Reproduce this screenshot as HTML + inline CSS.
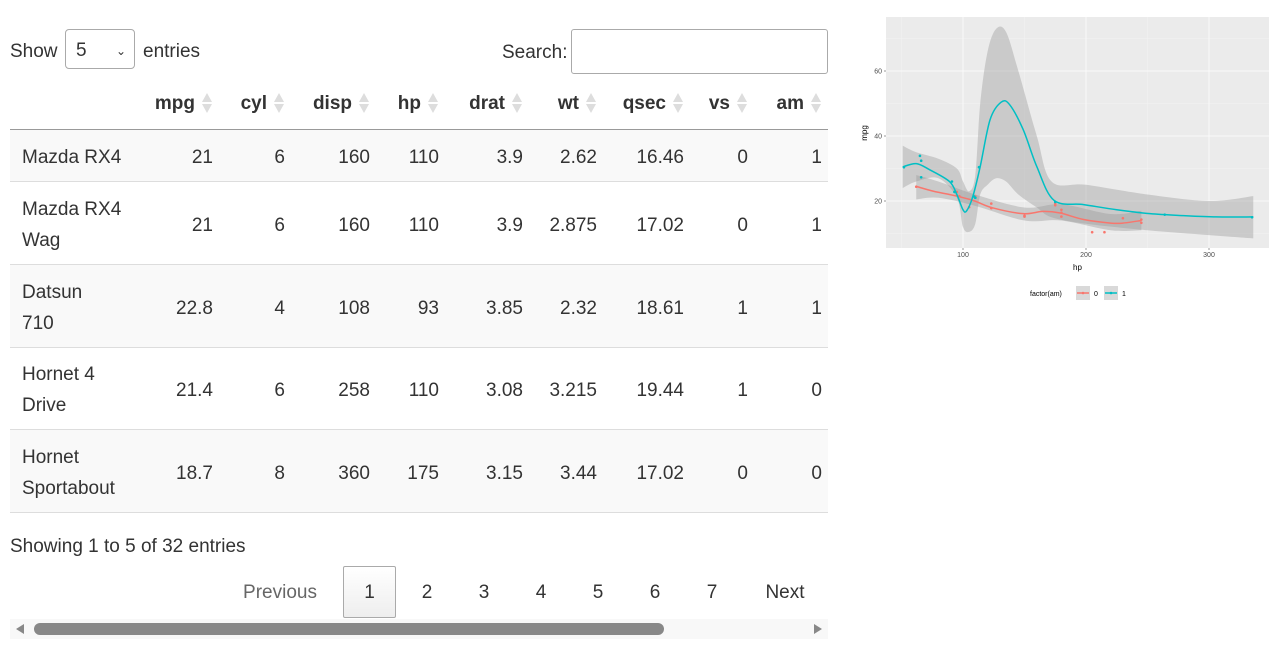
<!DOCTYPE html>
<html><head><meta charset="utf-8">
<style>
body{margin:0;width:1280px;height:654px;background:#fff;font-family:"Liberation Sans",sans-serif;color:#333;position:relative;overflow:hidden}
.a{position:absolute;white-space:nowrap}
.r{text-align:right}
.hd{font-weight:bold;font-size:19px}
.cell{font-size:19px}
.arr{position:absolute;width:12px;height:22px}
.arr:before{content:"";position:absolute;left:1px;top:1px;border-left:5px solid transparent;border-right:5px solid transparent;border-bottom:9px solid #ddd}
.arr:after{content:"";position:absolute;left:1px;top:12px;border-left:5px solid transparent;border-right:5px solid transparent;border-top:9px solid #ddd}
.row{position:absolute;left:10px;width:818px;border-bottom:1px solid #ddd}
.pg{position:absolute;top:566px;height:52px;line-height:54px;font-size:19px;text-align:center;color:#333}
</style></head><body>
<div class="a" style="left:10px;top:41px;font-size:19px">Show</div>
<div class="a" style="left:65px;top:29px;width:70px;height:40px;border:1px solid #aaa;border-radius:4px;font-size:19px;line-height:42px;box-sizing:border-box;padding-left:10px">5<span style="position:absolute;right:8px;top:0;font-size:12px">&#8964;</span></div>
<div class="a" style="left:143px;top:41px;font-size:19px">entries</div>
<div class="a" style="left:502px;top:42px;font-size:19px">Search:</div>
<div class="a" style="left:571px;top:29px;width:257px;height:45px;border:1px solid #aaa;border-radius:3px;box-sizing:border-box"></div>

<div id="tbl"></div>

<div class="a" style="left:10px;top:536px;font-size:19px">Showing 1 to 5 of 32 entries</div>
<div class="pg" style="left:232px;width:96px;color:#666">Previous</div>
<div class="pg" style="left:343px;width:53px;border:1px solid #aaa;border-radius:2px;background:linear-gradient(#fff,#eee);box-sizing:border-box;line-height:52px">1</div>
<div class="pg" style="left:403px;width:48px">2</div>
<div class="pg" style="left:460px;width:48px">3</div>
<div class="pg" style="left:517px;width:48px">4</div>
<div class="pg" style="left:574px;width:48px">5</div>
<div class="pg" style="left:631px;width:48px">6</div>
<div class="pg" style="left:688px;width:48px">7</div>
<div class="pg" style="left:755px;width:60px">Next</div>
<div class="a" style="left:10px;top:619px;width:818px;height:20px;background:#f8f8f8">
 <div class="a" style="left:6px;top:5px;border-top:5px solid transparent;border-bottom:5px solid transparent;border-right:8px solid #888"></div>
 <div class="a" style="left:24px;top:4px;width:630px;height:12px;border-radius:6px;background:#888"></div>
 <div class="a" style="left:804px;top:5px;border-top:5px solid transparent;border-bottom:5px solid transparent;border-left:8px solid #888"></div>
</div>

<svg id="chart" class="a" style="left:850px;top:0" width="430" height="310"></svg>

<script>
// ---- table ----
const cols=["mpg","cyl","disp","hp","drat","wt","qsec","vs","am"];
const colRight=[213,285,370,439,523,597,684,748,822];
const rowsData=[
 ["Mazda RX4",["21","6","160","110","3.9","2.62","16.46","0","1"]],
 ["Mazda RX4<br>Wag",["21","6","160","110","3.9","2.875","17.02","0","1"]],
 ["Datsun<br>710",["22.8","4","108","93","3.85","2.32","18.61","1","1"]],
 ["Hornet 4<br>Drive",["21.4","6","258","110","3.08","3.215","19.44","1","0"]],
 ["Hornet<br>Sportabout",["18.7","8","360","175","3.15","3.44","17.02","0","0"]]];
const rowTops=[130,182,265,348,430,513];
let h='';
cols.forEach((c,i)=>{h+=`<div class="a r hd" style="left:${colRight[i]-100-18}px;width:100px;top:93px">${c}</div><div class="arr" style="left:${colRight[i]-12}px;top:92px"></div>`;});
h+=`<div class="a" style="left:10px;top:129px;width:818px;height:1px;background:#999"></div>`;
rowsData.forEach((r,k)=>{const t=rowTops[k],hh=rowTops[k+1]-t;const mid=t+hh/2+2;
 h+=`<div class="row" style="top:${t}px;height:${hh-1}px;background:${k%2==0?'#f9f9f9':'#fff'}"></div>`;
 const two=r[0].includes('<br>');
 h+=`<div class="a cell" style="left:22px;top:${two?mid-32:mid-12}px;line-height:${two?31:24}px">${r[0]}</div>`;
 r[1].forEach((v,i)=>{h+=`<div class="a r cell" style="left:${colRight[i]-90}px;width:90px;top:${mid-12}px;line-height:24px">${v}</div>`;});
});
document.getElementById('tbl').innerHTML=h;

// ---- chart data ----
const hp0=[110,175,105,245,62,95,123,123,180,180,180,205,215,230,97,150,150,245,175];
const mpg0=[21.4,18.7,18.1,14.3,24.4,22.8,19.2,17.8,16.4,17.3,15.2,10.4,10.4,14.7,21.5,15.5,15.2,13.3,19.2];
const hp1=[110,110,93,66,52,65,66,91,113,264,175,335,109];
const mpg1=[21,21,22.8,32.4,30.4,33.9,27.3,26,30.4,15.8,19.7,15,21.4];
const fitX1=[51,62,73,89,95,100,103,108,114,122,131,138,149,160,174,198,225,252,279,306,336];
const fitY1=[30.5,31.5,29.6,26,22,17.3,17.0,21.4,30.6,45,50.4,49.6,41.9,30.6,20.2,18.9,17.3,16.1,15.5,15.1,15.1];
const bandX1=[51,62,80,95,100,105,110,114,120,127,135,145,160,172,200,250,300,336];
const bandHi1=[37,35,33,30,26,23,28,50,66,73,72,60,40,26,25,22,20,21.5];
const bandLo1=[24,26,27,21,12,10.5,13,22,25,27,26,22,18,15,13,11,9.5,8.5];
const fitX0=[62,76,89,108,124,149,165,179,198,220,230,245];
const fitY0=[24.5,23,22,20.2,17.9,16.1,16.8,16.3,14.3,13.2,13.2,14];
const bandX0=[62,80,110,150,180,220,245];
const bandHi0=[28,26,22,18,19,16,17];
const bandLo0=[20.5,21,18.5,14,14,11,11];
const xTicks=[100,200,300];
const yTicks=[20,40,60];

const L=36,R=419,T=17,B=248;
const x=v=>113+(v-100)*1.23;
const y=v=>201-(v-20)*3.25;
const NS='http://www.w3.org/2000/svg';
const svg=document.getElementById('chart');
function mk(tag,attrs,name){const e=document.createElementNS(NS,tag);for(const k in attrs)e.setAttribute(k,attrs[k]);
 
 
 svg.appendChild(e);return e;}
function curve(p){let d='';
 for(let i=0;i<p.length-1;i++){const p0=p[i-1]||p[i],p1=p[i],p2=p[i+1],p3=p[i+2]||p2;
  d+=`C${p1[0]+(p2[0]-p0[0])/6},${p1[1]+(p2[1]-p0[1])/6} ${p2[0]-(p3[0]-p1[0])/6},${p2[1]-(p3[1]-p1[1])/6} ${p2[0]},${p2[1]}`;}
 return d;}
mk('rect',{x:L,y:T,width:R-L,height:B-T,fill:'#ebebeb'},'panel-background');
[50,150,250].forEach(v=>mk('line',{x1:x(v),x2:x(v),y1:T,y2:B,stroke:'#f3f3f3','stroke-width':0.5},'minor-gridline'));
[10,30,50,70].forEach(v=>mk('line',{x1:L,x2:R,y1:y(v),y2:y(v),stroke:'#f3f3f3','stroke-width':0.5},'minor-gridline'));
xTicks.forEach(v=>{mk('line',{x1:x(v),x2:x(v),y1:T,y2:B,stroke:'#fafafa','stroke-width':0.9},'x-gridline');
 mk('line',{x1:x(v),x2:x(v),y1:B,y2:B+2,stroke:'#333','stroke-width':0.5},'x-tick');
 const t=mk('text',{x:x(v),y:B+9,'font-size':7,fill:'#4d4d4d','text-anchor':'middle'},'x-tick-label');t.textContent=v;});
yTicks.forEach(v=>{mk('line',{x1:L,x2:R,y1:y(v),y2:y(v),stroke:'#fafafa','stroke-width':0.9},'y-gridline');
 mk('line',{x1:L-2,x2:L,y1:y(v),y2:y(v),stroke:'#333','stroke-width':0.5},'y-tick');
 const t=mk('text',{x:L-4,y:y(v)+2.5,'font-size':7,fill:'#4d4d4d','text-anchor':'end'},'y-tick-label');t.textContent=v;});
function band(X,H,Lo,name){const up=X.map((v,i)=>[x(v),y(H[i])]);const lo=X.map((v,i)=>[x(v),y(Lo[i])]).reverse();
 const d='M'+up[0]+curve(up)+'L'+lo[0]+curve(lo)+'Z';
 mk('path',{d:d,fill:'#999','fill-opacity':0.4},name);}
function smooth(X,Y){const p=X.map((v,i)=>[x(v),y(Y[i])]);return 'M'+p[0]+curve(p);}
band(bandX1,bandHi1,bandLo1,'ci-band-am1');
band(bandX0,bandHi0,bandLo0,'ci-band-am0');
hp0.forEach((v,i)=>mk('circle',{cx:x(v),cy:y(mpg0[i]),r:1.3,fill:'#F8766D'},'point-am0'));
hp1.forEach((v,i)=>mk('circle',{cx:x(v),cy:y(mpg1[i]),r:1.3,fill:'#00BFC4'},'point-am1'));
mk('path',{d:smooth(fitX0,fitY0),fill:'none',stroke:'#F8766D','stroke-width':1.5},'smooth-line-am0');
mk('path',{d:smooth(fitX1,fitY1),fill:'none',stroke:'#00BFC4','stroke-width':1.5},'smooth-line-am1');
let t=mk('text',{x:(L+R)/2,y:270,'font-size':8,fill:'#000','text-anchor':'middle'},'x-axis-title');t.textContent='hp';
t=mk('text',{x:0,y:0,'font-size':8,fill:'#000','text-anchor':'middle',transform:`translate(${17},${133}) rotate(-90)`},'y-axis-title');t.textContent='mpg';
t=mk('text',{x:180,y:296,'font-size':7,fill:'#000'},'legend-title');t.textContent='factor(am)';
[['0','#F8766D',226],['1','#00BFC4',254]].forEach(([lab,c,lx])=>{
 mk('rect',{x:lx,y:286,width:14,height:14,fill:'#d9d9d9'},'legend-key');
 mk('line',{x1:lx+1,x2:lx+13,y1:293,y2:293,stroke:c,'stroke-width':1.5},'legend-line');
 mk('circle',{cx:lx+7,cy:293,r:1.3,fill:c},'legend-point');
 const tt=mk('text',{x:lx+18,y:296,'font-size':7,fill:'#000'},'legend-label');tt.textContent=lab;});
</script>
</body></html>
